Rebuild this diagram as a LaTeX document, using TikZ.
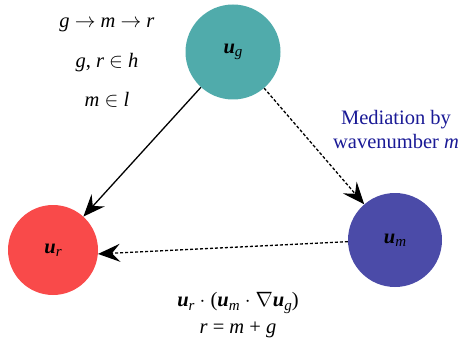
\documentclass[tikz,border=0pt]{standalone}
\usepackage{fontspec}
\setmainfont{Liberation Serif}
\usetikzlibrary{arrows.meta}
\definecolor{cg}{RGB}{80,171,171}
\definecolor{cr}{RGB}{249,74,74}
\definecolor{cm}{RGB}{75,75,168}
\definecolor{navy}{RGB}{26,26,150}
\newcommand{\iv}[1]{\textit{#1}}
\newcommand{\bu}{\textbf{\textit{u}}}
\newcommand{\sbx}[1]{\raisebox{-0.35ex}{\fontsize{15}{15}\selectfont\textit{#1}}}
\begin{document}
\begin{tikzpicture}[x=1pt,y=-1pt,
  ball/.style={circle,draw=none,inner sep=0pt,minimum size=#1},
  txt/.style={font=\fontsize{20.5}{24}\selectfont,align=center,inner sep=0pt},
  arr/.style={-{Stealth[length=22pt,width=18pt,inset=8pt]},line width=1.3pt},
  darr/.style={arr,dash pattern=on 3pt off 2pt}]
\useasboundingbox (0,0) rectangle (458,350);
\node[ball=95pt,fill=cg,txt] (g) at (233,52) {\bu\sbx{g}};
\node[ball=90pt,fill=cr,txt] (r) at (53,250) {\bu\sbx{r}};
\node[ball=94pt,fill=cm,txt] (m) at (395,240) {\bu\sbx{m}};
\node[txt] (t1) at (107,25) {\iv{g} $\to$ \iv{m} $\to$ \iv{r}};
\node[txt] (t2) at (107,63) {\iv{g}, \iv{r} $\in$ \iv{h}};
\node[txt] (t3) at (107,100) {\iv{m} $\in$ \iv{l}};
\node[txt,text=navy] (med) at (396,129) {Mediation by\\wavenumber \iv{m}};
\node[txt] (e1) at (238,303) {\bu\sbx{r} $\cdot$ (\bu\sbx{m} $\cdot$ $\nabla$\bu\sbx{g})};
\node[txt] (e2) at (238,330) {\iv{r} = \iv{m} + \iv{g}};
\draw[arr] (g) -- (r);
\draw[darr] (g) -- (m);
\draw[darr] (m.182) -- (r.-5);
\end{tikzpicture}
\end{document}
